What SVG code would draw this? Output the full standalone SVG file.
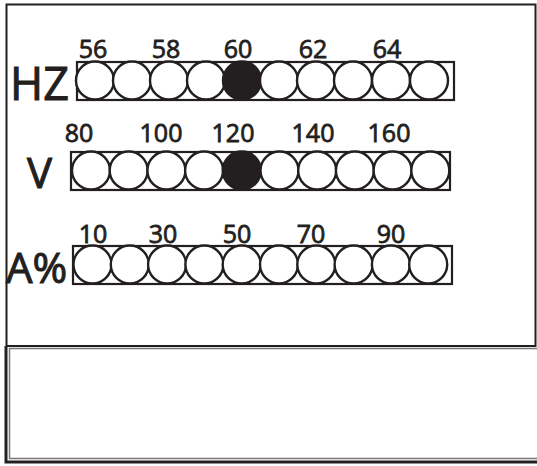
<svg xmlns="http://www.w3.org/2000/svg" width="537" height="466" viewBox="0 0 537 466">
<style>
.bar{fill:#fff;stroke:#231f20;stroke-width:2.2}
.c{fill:#fff;stroke:#231f20;stroke-width:2.4}
.on{fill:#231f20;stroke:#231f20;stroke-width:2.4}
.num{font-family:"Open Sans","Noto Sans",sans-serif;font-size:25px;fill:#231f20;stroke:#231f20;stroke-width:0.8;text-anchor:middle}
.big{font-family:"Open Sans","Noto Sans",sans-serif;fill:#231f20;stroke:#231f20;stroke-width:1}
</style>
<rect width="537" height="466" fill="#fff"/>
<g id="frame">
<rect x="6.5" y="4.5" width="529" height="341.5" fill="none" stroke="#231f20" stroke-width="2"/>
<rect x="9.5" y="348.5" width="530" height="110" fill="none" stroke="#777" stroke-width="1.5"/>
<path d="M6,346 V462 H537" fill="none" stroke="#231f20" stroke-width="3"/>
</g>
<g id="hz">
<text class="big" x="10" y="100" font-size="45">HZ</text>
<rect class="bar" x="77" y="62" width="377" height="38"/>
<circle class="c" cx="95" cy="80.5" r="19"/>
<circle class="c" cx="132" cy="80.5" r="19"/>
<circle class="c" cx="169" cy="80.5" r="19"/>
<circle class="c" cx="206" cy="80.5" r="19"/>
<circle class="on" cx="242" cy="80.5" r="19"/>
<circle class="c" cx="279" cy="80.5" r="19"/>
<circle class="c" cx="316" cy="80.5" r="19"/>
<circle class="c" cx="353" cy="80.5" r="19"/>
<circle class="c" cx="391" cy="80.5" r="19"/>
<circle class="c" cx="429" cy="80.5" r="19"/>
<text class="num" x="93" y="58">56</text>
<text class="num" x="166" y="58">58</text>
<text class="num" x="238" y="58">60</text>
<text class="num" x="313" y="58">62</text>
<text class="num" x="387" y="58">64</text>
</g>
<g id="v">
<text class="big" x="27" y="188" font-size="42">V</text>
<rect class="bar" x="71" y="152" width="379" height="38"/>
<circle class="c" cx="91" cy="170.5" r="19"/>
<circle class="c" cx="128.7" cy="170.5" r="19"/>
<circle class="c" cx="166.4" cy="170.5" r="19"/>
<circle class="c" cx="204.1" cy="170.5" r="19"/>
<circle class="on" cx="241.8" cy="170.5" r="19"/>
<circle class="c" cx="279.5" cy="170.5" r="19"/>
<circle class="c" cx="317.2" cy="170.5" r="19"/>
<circle class="c" cx="354.9" cy="170.5" r="19"/>
<circle class="c" cx="392.6" cy="170.5" r="19"/>
<circle class="c" cx="430.3" cy="170.5" r="19"/>
<text class="num" x="79" y="142">80</text>
<text class="num" x="161" y="142">100</text>
<text class="num" x="233" y="142">120</text>
<text class="num" x="313" y="142">140</text>
<text class="num" x="389" y="142">160</text>
</g>
<g id="a">
<text class="big" x="6" y="283" font-size="42">A%</text>
<rect class="bar" x="73" y="246" width="379" height="38"/>
<circle class="c" cx="92.5" cy="264.5" r="19"/>
<circle class="c" cx="129.8" cy="264.5" r="19"/>
<circle class="c" cx="167.1" cy="264.5" r="19"/>
<circle class="c" cx="204.4" cy="264.5" r="19"/>
<circle class="c" cx="241.7" cy="264.5" r="19"/>
<circle class="c" cx="279" cy="264.5" r="19"/>
<circle class="c" cx="316.3" cy="264.5" r="19"/>
<circle class="c" cx="353.6" cy="264.5" r="19"/>
<circle class="c" cx="390.9" cy="264.5" r="19"/>
<circle class="c" cx="428.2" cy="264.5" r="19"/>
<text class="num" x="93" y="243">10</text>
<text class="num" x="163" y="243">30</text>
<text class="num" x="237" y="243">50</text>
<text class="num" x="311" y="243">70</text>
<text class="num" x="391" y="243">90</text>
</g>
</svg>
